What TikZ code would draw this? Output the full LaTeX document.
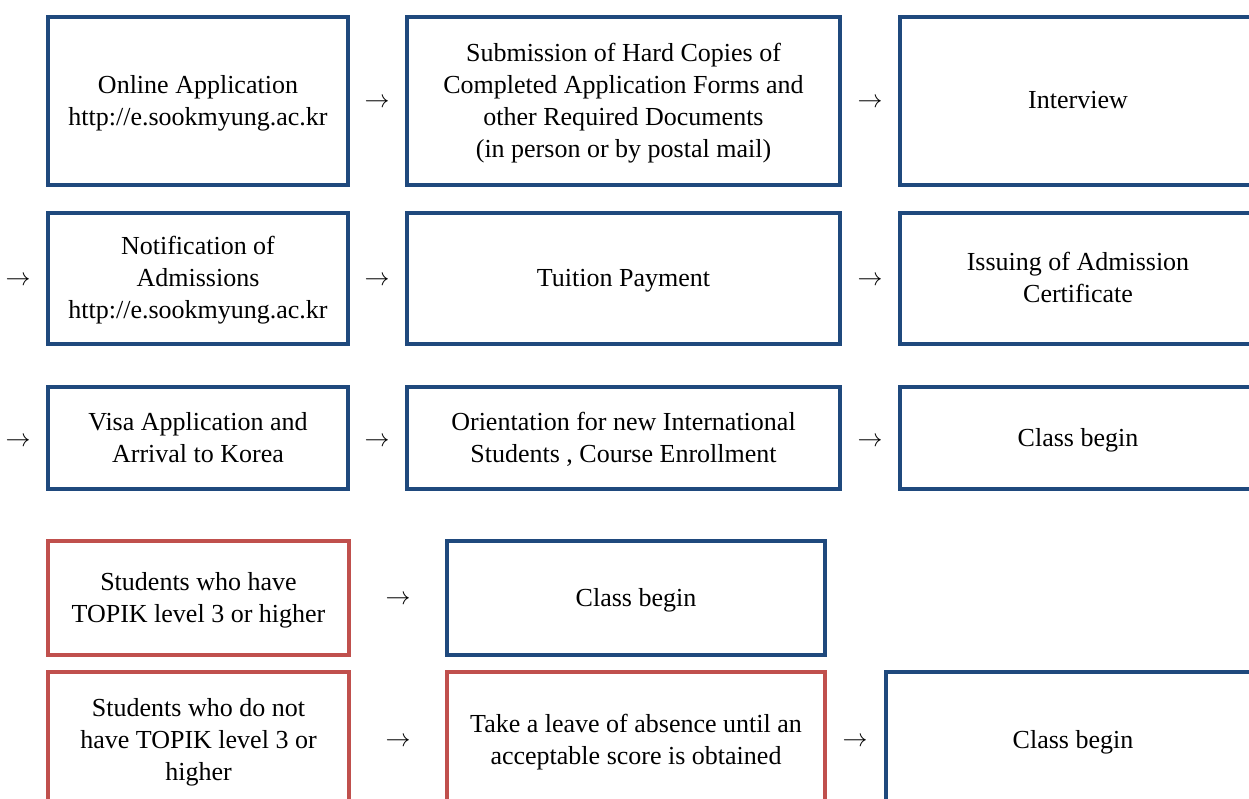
\documentclass[tikz,border=0pt]{standalone}
\usepackage{fontspec}
\setmainfont{Liberation Serif}
\definecolor{smblue}{HTML}{1F497D}
\definecolor{smred}{HTML}{C0504D}
\tikzset{
  stage/.style={draw=smblue, line width=4pt, align=center, inner sep=0pt,
    font=\fontsize{26}{32}\selectfont, text depth=2pt},
  choice/.style={stage, draw=smred},
  arr/.style={font=\fontsize{24}{32}\selectfont, yshift=-2pt}
}

\begin{document}
\begin{tikzpicture}[x=1pt,y=-1pt]
%\draw[help lines] (0,0) grid[step=100] (1249,798);
\useasboundingbox (0,0) rectangle (1249,798);
\clip (0,0) rectangle (1249,798);

% first row
\node[stage, minimum width=300pt, minimum height=168pt] (online) at (198,101)
  {Online Application\\http://e.sookmyung.ac.kr};
\node[arr] (a1) at (377,101) {$\rightarrow$};
\node[stage, minimum width=433pt, minimum height=168pt] (copies) at (623.5,101)
  {Submission of Hard Copies of\\Completed Application Forms and\\other Required Documents\\(in person or by postal mail)};
\node[arr] (a2) at (870,101) {$\rightarrow$};
\node[stage, minimum width=356pt, minimum height=168pt] (interview) at (1078,101)
  {Interview};

% second row
\node[arr] (a3) at (18,279) {$\rightarrow$};
\node[stage, minimum width=300pt, minimum height=131pt] (notify) at (198,278.5)
  {Notification of\\Admissions\\http://e.sookmyung.ac.kr};
\node[arr] (a4) at (377,279) {$\rightarrow$};
\node[stage, minimum width=433pt, minimum height=131pt] (tuition) at (623.5,278.5)
  {Tuition Payment};
\node[arr] (a5) at (870,279) {$\rightarrow$};
\node[stage, minimum width=356pt, minimum height=131pt] (certificate) at (1078,278.5)
  {Issuing of Admission\\Certificate};

% third row
\node[arr] (a6) at (18,440) {$\rightarrow$};
\node[stage, minimum width=300pt, minimum height=102pt] (visa) at (198,438)
  {Visa Application and\\Arrival to Korea};
\node[arr] (a7) at (377,440) {$\rightarrow$};
\node[stage, minimum width=433pt, minimum height=102pt] (orientation) at (623.5,438)
  {Orientation for new International\\Students , Course Enrollment};
\node[arr] (a8) at (870,440) {$\rightarrow$};
\node[stage, minimum width=356pt, minimum height=102pt] (begin) at (1078,438)
  {Class begin};

% TOPIK cases
\node[choice, minimum width=301pt, minimum height=114pt] (topik) at (198.5,598)
  {Students who have\\TOPIK level 3 or higher};
\node[arr] (a9) at (398,598) {$\rightarrow$};
\node[stage, minimum width=378pt, minimum height=114pt] (begintopik) at (636,598)
  {Class begin};

\node[choice, minimum width=301pt, minimum height=136pt] (notopik) at (198.5,740)
  {Students who do not\\have TOPIK level 3 or\\higher};
\node[arr] (a10) at (398,740) {$\rightarrow$};
\node[choice, minimum width=378pt, minimum height=136pt] (leave) at (636,740)
  {Take a leave of absence until an\\acceptable score is obtained};
\node[arr] (a11) at (855,740) {$\rightarrow$};
\node[stage, minimum width=374pt, minimum height=136pt] (beginleave) at (1073,740)
  {Class begin};
\end{tikzpicture}
\end{document}
